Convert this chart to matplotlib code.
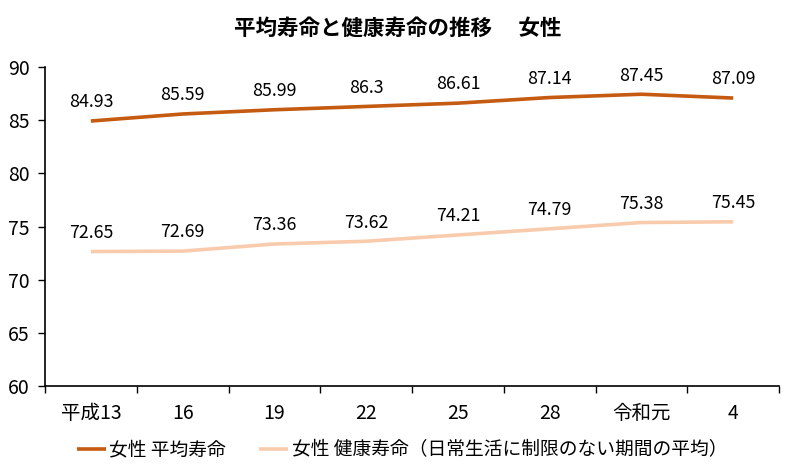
#!/usr/bin/env python3
"""Average life expectancy and healthy life expectancy, women."""

import matplotlib

matplotlib.use("Agg")
import matplotlib.pyplot as plt
from matplotlib.ticker import FixedLocator, NullFormatter

YEARS = ["平成13", "16", "19", "22", "25", "28", "令和元", "4"]
LIFE = [84.93, 85.59, 85.99, 86.3, 86.61, 87.14, 87.45, 87.09]
HEALTHY = [72.65, 72.69, 73.36, 73.62, 74.21, 74.79, 75.38, 75.45]
LIFE_LABEL = "女性 平均寿命"
HEALTHY_LABEL = "女性 健康寿命（日常生活に制限のない期間の平均）"
TITLE = "平均寿命と健康寿命の推移　 女性"

plt.rcParams["font.family"] = ["Noto Sans CJK JP", "DejaVu Sans"]
plt.rcParams["font.size"] = 13

fig = plt.figure(figsize=(7.95, 4.76), dpi=100)
ax = fig.add_axes([0.0566, 0.189, 0.9234, 0.670])

x = list(range(len(YEARS)))
ax.plot(x, LIFE, color="#C55A11", linewidth=2.6, solid_capstyle="butt",
        label=LIFE_LABEL)
ax.plot(x, HEALTHY, color="#F8CBAD", linewidth=2.6, solid_capstyle="butt",
        label=HEALTHY_LABEL)

for series in (LIFE, HEALTHY):
    for xi, v in zip(x, series):
        ax.annotate(f"{v:g}", (xi, v), xytext=(0, 7), textcoords="offset points",
                    ha="center", va="bottom", fontsize=12.8)

ax.set_xlim(-0.5, len(YEARS) - 0.5)
ax.set_ylim(60, 90)
ax.set_yticks(range(60, 91, 5))
ax.tick_params(axis="y", direction="out", length=5, width=1, pad=6, labelsize=14)

ax.xaxis.set_major_locator(FixedLocator([i - 0.5 for i in range(len(YEARS) + 1)]))
ax.xaxis.set_major_formatter(NullFormatter())
ax.xaxis.set_minor_locator(FixedLocator(x))
ax.set_xticklabels(YEARS, minor=True)
ax.tick_params(axis="x", which="major", direction="out", length=5, width=1)
ax.tick_params(axis="x", which="minor", length=0, pad=12, labelsize=14)

for side in ("top", "right"):
    ax.spines[side].set_visible(False)
for side in ("left", "bottom"):
    ax.spines[side].set_linewidth(1.2)
    ax.spines[side].set_color("black")

fig.text(0.5, 0.94, TITLE, ha="center", va="center", fontsize=15.5,
         fontweight="bold")

fig.legend(loc="lower left", bbox_to_anchor=(0.075, -0.003), ncol=2, frameon=False,
           fontsize=13.5, handlelength=1.55, handletextpad=0.2, columnspacing=1.75)

fig.savefig("out.png", dpi=100)
